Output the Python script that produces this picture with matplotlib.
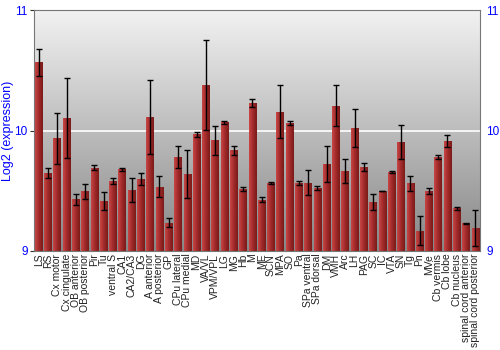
import numpy as np
import matplotlib
matplotlib.use("Agg")
import matplotlib.pyplot as plt
from matplotlib.colors import LinearSegmentedColormap

plt.rcParams["font.family"] = ["Liberation Sans", "DejaVu Sans"]

regions = [
    "LS", "RS", "Cx motor", "Cx cingulate", "OB anterior", "OB posterior", "Pir", "Tu",
    "ventral S", "CA1", "CA2/CA3", "DG", "A anterior", "A posterior", "GP", "CPu lateral",
    "CPu medial", "MD", "VA/VL", "VPM/VPL", "LG", "MG", "Hb", "M", "ME", "SCN", "MPA", "SO",
    "Pa", "SPa ventral", "SPa dorsal", "DM", "VMH", "Arc", "LH", "PAG", "SC", "IC", "VTA",
    "SN", "Tg", "Pn", "MVe", "Cb vermis", "Cb lobe", "Cb nucleus",
    "spinal cord anterior", "spinal cord posterior",
]
expression = [
    10.566, 9.647, 9.935, 10.104, 9.429, 9.495, 9.691, 9.412,
    9.578, 9.677, 9.504, 9.600, 10.112, 9.534, 9.235, 9.778,
    9.642, 9.968, 10.378, 9.921, 10.068, 9.838, 9.515, 10.228, 9.426, 9.562, 10.156, 10.062,
    9.564, 9.567, 9.525, 9.722, 10.206, 9.664, 10.021, 9.695, 9.409, 9.498, 9.658,
    9.905, 9.564, 9.168, 9.498, 9.778, 9.913, 9.354,
    9.230, 9.191,
]
error = [
    0.11, 0.04, 0.21, 0.33, 0.045, 0.06, 0.02, 0.075,
    0.025, 0.015, 0.10, 0.05, 0.31, 0.09, 0.04, 0.09,
    0.20, 0.02, 0.37, 0.12, 0.014, 0.037, 0.015, 0.03, 0.018, 0.008, 0.22, 0.02,
    0.015, 0.105, 0.018, 0.15, 0.17, 0.10, 0.16, 0.033, 0.065, 0.004, 0.01,
    0.14, 0.062, 0.12, 0.023, 0.017, 0.052, 0.014,
    0.005, 0.15,
]
y_ticks = [9, 10, 11]
baseline = 9

fig = plt.figure(figsize=(5, 3.5), dpi=100)
ax = fig.add_axes([0.068, 0.283, 0.892, 0.688])

# grey gradient background, light at top
bg = np.linspace(0, 1, 256).reshape(-1, 1)
bg_cmap = LinearSegmentedColormap.from_list("bg", ["#f2f2f2", "#878787"])
ax.imshow(bg, cmap=bg_cmap, aspect="auto", extent=[0, 1, 0, 1], origin="upper",
          transform=ax.transAxes, zorder=0)

x = np.arange(len(regions))
width = 0.82
bars = ax.bar(x, np.array(expression) - baseline, width, bottom=baseline,
              color="#a83232", edgecolor="none", zorder=2)

# horizontal shading on each bar
bar_cmap = LinearSegmentedColormap.from_list("bar", ["#c84646", "#a02a2a", "#7a1a1a"])
shade = np.linspace(0, 1, 64).reshape(1, -1)
for b in bars:
    im = ax.imshow(shade, cmap=bar_cmap, aspect="auto", zorder=2.5,
                   extent=[b.get_x(), b.get_x() + b.get_width(),
                           b.get_y(), b.get_y() + b.get_height()])
    im.set_clip_path(b)

ax.errorbar(x, expression, yerr=error, fmt="none", ecolor="black",
            elinewidth=1, capsize=2.5, capthick=1, zorder=4)

ax.axhline(10, color="white", lw=1.2, zorder=1)

ax.set_xlim(-0.5, len(regions) - 0.5)
ax.set_ylim(9, 11)
ax.set_yticks(y_ticks)
ax.set_yticklabels([str(t) for t in y_ticks])
ax.tick_params(axis="y", which="both", colors="#333333", labelcolor="blue",
               labelsize=8.5, left=True, right=False,
               labelleft=True, labelright=True, length=3, pad=1.5)
ax.set_xticks(x)
ax.set_xticklabels(regions, rotation=90, fontsize=7.5, color="#222222")
ax.tick_params(axis="x", length=0, pad=2)
ax.set_ylabel("Log2 (expression)", color="blue", fontsize=9)
ax.yaxis.set_label_coords(-0.045, 0.5)

for s in ax.spines.values():
    s.set_color("#777777")
    s.set_linewidth(0.8)

fig.savefig("out.png", dpi=100)
